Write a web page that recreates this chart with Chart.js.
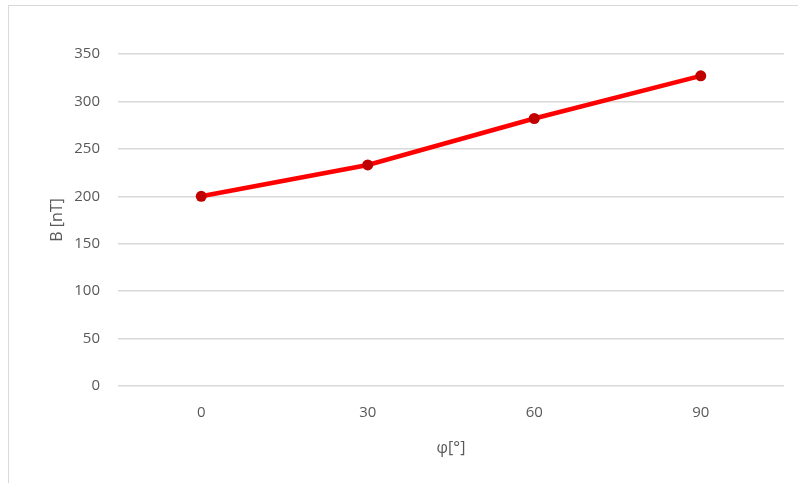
<!DOCTYPE html>
<html>
<head>
<meta charset="utf-8">
<script src="https://cdn.jsdelivr.net/npm/chart.js@4"></script>
<style>
html,body{margin:0;padding:0;background:#fff;overflow:hidden;}
#wrap{position:relative;width:798px;height:483px;}
#frame{position:absolute;left:8px;top:5px;width:800px;height:500px;border:1px solid #d9d9d9;box-sizing:border-box;}
canvas{position:absolute;left:0;top:0;}
</style>
</head>
<body>
<div id="wrap">
<div id="frame"></div>
<canvas id="c" width="798" height="483"></canvas>
</div>
<script>
const categories = ['0', '30', '60', '90'];
const bValues = [200, 233, 282, 327];
const xTitle = 'φ[°]';
const yTitle = 'B [nT]';

const font = "'Open Sans', 'Liberation Sans', sans-serif";
new Chart(document.getElementById('c'), {
  type: 'line',
  data: {
    labels: categories,
    datasets: [{
      data: bValues,
      borderColor: '#ff0000',
      borderWidth: 4.5,
      pointRadius: 5.5,
      pointBackgroundColor: '#c00000',
      pointBorderColor: '#c00000',
      pointBorderWidth: 0,
      tension: 0
    }]
  },
  options: {
    responsive: false,
    animation: false,
    layout: {padding: {top: 54, right: 14, left: 0, bottom: 0}},
    plugins: {legend: {display: false}, tooltip: {enabled: false}},
    scales: {
      x: {
        offset: true,
        grid: {display: false, drawTicks: false},
        border: {display: false},
        ticks: {color: '#595959', font: {family: font, size: 15}, padding: 18},
        title: {display: true, text: xTitle, color: '#595959', font: {family: font, size: 16}, padding: {top: 0, bottom: 25}},
        afterFit: s => { s.height = 97; }
      },
      y: {
        min: 0, max: 350,
        ticks: {stepSize: 50, color: '#595959', font: {family: font, size: 15}, padding: 18},
        grid: {color: '#d9d9d9', lineWidth: 1.5, drawTicks: false},
        border: {display: false},
        title: {display: true, text: yTitle, color: '#595959', font: {family: font, size: 16}, padding: {top: 48, bottom: 0}},
        afterFit: s => { s.width = 118; }
      }
    }
  }
});
</script>
</body>
</html>
